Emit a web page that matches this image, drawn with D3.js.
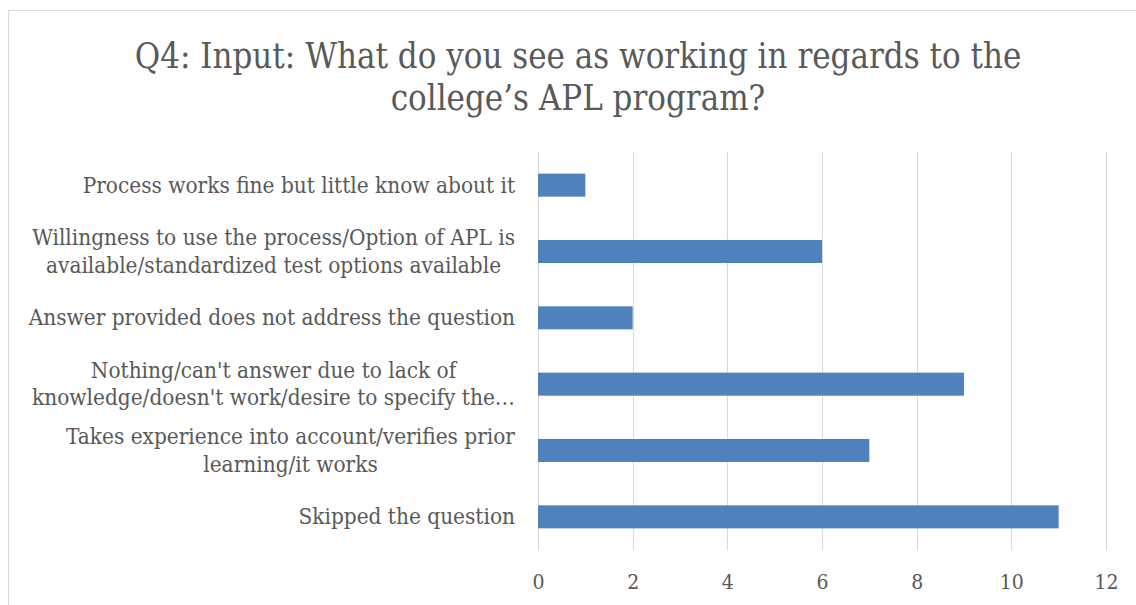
<!DOCTYPE html>
<html>
<head>
<meta charset="utf-8">
<script src="https://cdn.jsdelivr.net/npm/d3@7"></script>
<style>
  html, body { margin: 0; padding: 0; background: #fff; }
  svg { display: block; }
  text { font-family: "DejaVu Serif Condensed", "DejaVu Serif", serif; font-stretch: condensed; fill: #595959; }
</style>
</head>
<body>
<svg id="chart" width="1136" height="605"></svg>
<script>
// Survey responses, top row first
const categories = [
  ["Process works fine but little know about it"],
  ["Willingness to use the process/Option of APL is", "available/standardized test options available"],
  ["Answer provided does not address the question"],
  ["Nothing/can't answer due to lack of", "knowledge/doesn't work/desire to specify the…"],
  ["Takes experience into account/verifies prior", "learning/it works"],
  ["Skipped the question"]
];
const counts = [1, 6, 2, 9, 7, 11];
const xTicks = [0, 2, 4, 6, 8, 10, 12];
const titleLines = [
  "Q4: Input: What do you see as working in regards to the",
  "college’s APL program?"
];

const svg = d3.select("#chart");
const W = 1136, H = 605;
const plot = { left: 538, right: 1106, top: 152, bottom: 550 };

// Chart area frame
svg.append("rect")
  .attr("x", 8.5).attr("y", 10.5)
  .attr("width", W + 20).attr("height", H + 20)
  .attr("fill", "#fff").attr("stroke", "#d9d9d9").attr("stroke-width", 1);

// Title
svg.append("g").selectAll("text").data(titleLines).join("text")
  .attr("x", 578).attr("y", (d, i) => 68 + i * 42)
  .attr("text-anchor", "middle")
  .style("font-size", "34.5px")
  .text(d => d);

const x = d3.scaleLinear().domain([0, 12]).range([plot.left, plot.right]);
const y = d3.scaleBand().domain(d3.range(categories.length))
  .range([plot.top, plot.bottom]).paddingInner(0.653).paddingOuter(0.3265);

// Vertical gridlines
svg.append("g").selectAll("line").data(xTicks).join("line")
  .attr("x1", d => Math.round(x(d)) + 0.5).attr("x2", d => Math.round(x(d)) + 0.5)
  .attr("y1", plot.top).attr("y2", plot.bottom)
  .attr("stroke", "#d9d9d9").attr("stroke-width", 1);

// Bottom tick labels via d3 axis
const xAxis = svg.append("g")
  .attr("transform", `translate(0,${plot.bottom})`)
  .call(d3.axisBottom(x).tickValues(xTicks).tickSize(0).tickPadding(0).tickFormat(d3.format("d")));
xAxis.select(".domain").remove();
xAxis.selectAll("text")
  .attr("y", 39).attr("dy", null)
  .attr("fill", "#595959")
  .style("font-size", "21px")
  .style("font-family", '"DejaVu Serif Condensed", "DejaVu Serif", serif');

// Bars
svg.append("g").selectAll("rect").data(counts).join("rect")
  .attr("x", x(0)).attr("y", (d, i) => y(i))
  .attr("width", d => x(d) - x(0)).attr("height", y.bandwidth())
  .attr("fill", "#4f81bd");

// Category labels: block right-aligned, lines centred within block
const labelRight = 515, lineGap = 27.5;
const lg = svg.append("g");
categories.forEach((lines, i) => {
  const cy = y(i) + y.bandwidth() / 2;
  const texts = lines.map((t, j) => lg.append("text")
    .attr("y", cy + 7.5 + (j - (lines.length - 1) / 2) * lineGap)
    .attr("text-anchor", "middle")
    .style("font-size", "22.4px")
    .text(t));
  const w = d3.max(texts, t => t.node().getComputedTextLength());
  const cx = labelRight - w / 2;
  texts.forEach(t => t.attr("x", cx));
});
</script>
</body>
</html>
